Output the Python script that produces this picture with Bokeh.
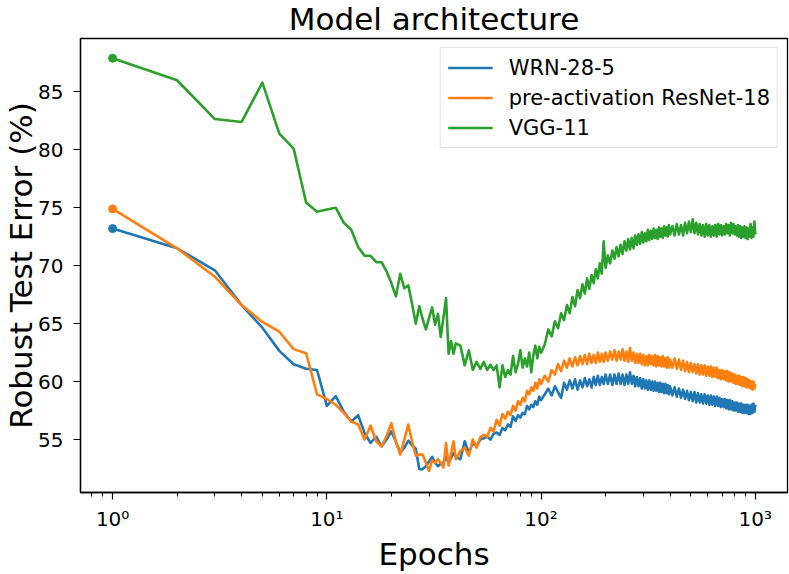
from bokeh.plotting import figure
from bokeh.models import (FixedTicker, CustomJSTickFormatter, Range1d, Legend,
                          LegendItem)
from bokeh.embed import file_html
from bokeh.resources import INLINE

# ---------------- data ----------------
epochs = (list(range(1, 41)) + list(range(42, 101, 2)) + list(range(104, 201, 4))
          + list(range(205, 401, 5)) + list(range(410, 1001, 10)))

wrn_a = [73.2, 71.5, 69.6, 66.6, 64.65, 62.65, 61.5, 61.1, 61.0, 57.9,
         58.75, 57.4, 56.55, 57.1, 55.55, 54.7, 55.25, 54.4, 55.0, 55.7,
         54.8, 53.9, 54.3, 54.9, 54.5, 54.2, 52.45, 52.45, 52.7, 53.1,
         53.5, 53.0, 52.7, 52.9, 53.0, 53.5, 53.0, 53.4, 53.85, 53.5]
wrn_b = [53.3, 54.85, 53.85, 54.7, 54.4, 55.0, 55.1, 55.25, 55.0, 55.5,
         55.6, 55.4, 56.0, 55.8, 56.3, 56.1, 57.0, 56.6, 57.1, 56.9,
         57.3, 57.2, 57.9, 57.6, 58.0, 57.8, 58.3, 58.0, 58.7, 58.4]
wrn_c = [58.9, 59.4, 58.8, 59.6, 59.1, 58.6, 59.9, 59.3, 60.1, 59.4,
         60.2, 59.3, 60.1, 59.5, 60.3, 59.6, 60.2, 59.5, 60.4, 59.7,
         60.5, 59.7, 60.4, 59.8, 60.6]
wrn_d = [59.8, 60.6, 59.7, 60.6, 59.8, 60.7, 59.8, 60.6, 59.7, 60.6,
         59.8, 60.8, 59.8, 60.5, 59.6, 60.4, 59.6, 60.3, 59.4, 60.2,
         59.4, 60.1, 59.3, 60.1, 59.3, 60.0, 59.2, 60.0, 59.2, 59.9,
         59.1, 59.9, 59.1, 59.8, 59.0, 59.8, 59.0, 59.7, 58.9, 59.6]
wrn_e = [58.8, 59.5, 58.7, 59.4, 58.6, 59.3, 58.5, 59.2, 58.4, 59.1,
         58.3, 59.1, 58.2, 59.0, 58.2, 58.9, 58.1, 58.9, 58.1, 58.8,
         58.0, 58.8, 58.0, 58.7, 57.9, 58.7, 57.9, 58.6, 57.8, 58.5,
         57.8, 58.5, 57.7, 58.4, 57.6, 58.4, 57.6, 58.3, 57.5, 58.2,
         57.5, 58.2, 57.4, 58.1, 57.4, 58.1, 57.3, 58.0, 57.3, 58.0,
         57.3, 58.0, 57.2, 57.9, 57.2, 58.0, 57.3, 58.1, 57.4, 58.0]

resnet_a = [74.9, 71.5, 69.05, 66.6, 65.15, 64.3, 62.8, 62.45, 58.9, 58.5,
            58.0, 57.3, 56.55, 56.3, 55.0, 56.2, 54.85, 54.4, 55.3, 56.4,
            54.8, 53.7, 55.0, 56.3, 54.8, 53.6, 53.7, 53.7, 53.0, 52.3,
            53.2, 53.0, 53.3, 53.0, 52.6, 54.7, 52.75, 53.8, 54.85, 53.3]
resnet_b = [54.0, 54.3, 53.6, 55.0, 54.3, 55.2, 55.4, 55.2, 56.0, 55.7,
            56.7, 56.2, 57.2, 56.8, 57.4, 57.1, 57.9, 57.5, 58.3, 58.0,
            58.6, 58.3, 59.2, 58.9, 59.5, 59.2, 59.9, 59.4, 60.2, 59.8]
resnet_c = [60.5, 60.0, 61.0, 60.6, 61.5, 60.9, 61.8, 61.2, 62.0, 61.3,
            62.1, 61.4, 62.2, 61.5, 62.3, 61.5, 62.4, 61.6, 62.3, 61.6,
            62.5, 61.7, 62.4, 61.7, 62.5]
resnet_d = [61.8, 62.6, 61.9, 62.7, 61.8, 62.6, 61.9, 62.8, 61.8, 62.6,
            61.7, 62.9, 61.8, 62.5, 61.6, 62.4, 61.6, 62.4, 61.5, 62.3,
            61.4, 62.2, 61.4, 62.3, 61.5, 62.2, 61.4, 62.3, 61.3, 62.2,
            61.4, 62.1, 61.3, 62.2, 61.3, 62.0, 61.2, 62.1, 61.2, 61.9]
resnet_e = [61.2, 62.0, 61.1, 61.9, 61.0, 61.8, 60.9, 61.7, 60.8, 61.6,
            60.8, 61.5, 60.7, 61.5, 60.6, 61.4, 60.6, 61.4, 60.5, 61.3,
            60.5, 61.3, 60.4, 61.2, 60.4, 61.2, 60.3, 61.0, 60.2, 61.0,
            60.2, 60.9, 60.1, 60.9, 60.0, 60.8, 60.0, 60.7, 59.9, 60.6,
            59.8, 60.5, 59.8, 60.5, 59.7, 60.4, 59.6, 60.4, 59.6, 60.3,
            59.5, 60.2, 59.5, 60.1, 59.4, 60.0, 59.3, 60.0, 59.4, 59.8]

vgg_a = [87.9, 86.0, 82.65, 82.4, 85.8, 81.4, 80.1, 75.45, 74.65, 74.85,
         75.0, 73.7, 73.1, 71.6, 70.85, 70.85, 70.3, 70.3, 69.5, 68.5,
         67.35, 69.3, 68.05, 68.3, 66.7, 65.0, 66.5, 65.4, 64.5, 65.5,
         66.4, 64.9, 65.85, 63.85, 65.5, 67.2, 62.4, 63.5, 62.4, 63.3]
vgg_b = [63.1, 61.4, 62.7, 61.0, 61.7, 61.1, 61.7, 61.0, 61.45, 61.0,
         61.4, 59.5, 61.4, 60.4, 61.0, 60.6, 62.2, 60.8, 61.5, 62.7,
         61.2, 62.0, 61.3, 62.5, 60.8, 62.3, 63.1, 62.0, 63.0, 62.5]
vgg_c = [63.2, 64.5, 63.9, 65.2, 64.6, 65.9, 65.3, 66.6, 65.9, 67.3,
         66.5, 67.9, 67.2, 68.4, 67.6, 68.9, 68.0, 69.2, 68.5, 69.7,
         68.9, 70.2, 69.3, 72.1, 69.8]
vgg_d = [70.9, 70.2, 71.3, 70.6, 71.6, 70.8, 71.8, 71.0, 72.1, 71.3,
         72.3, 71.4, 72.4, 71.5, 72.6, 71.8, 72.7, 71.9, 72.9, 72.0,
         72.8, 72.1, 73.1, 72.2, 73.0, 72.3, 73.2, 72.4, 73.1, 72.3,
         73.3, 72.5, 73.2, 72.4, 73.4, 72.6, 73.3, 72.5, 73.5, 72.7]
vgg_e = [73.4, 72.6, 73.6, 72.7, 73.5, 72.6, 73.7, 72.8, 73.8, 72.9,
         74.0, 72.8, 73.7, 72.7, 73.6, 72.6, 73.5, 72.5, 73.6, 72.6,
         73.5, 72.5, 73.4, 72.6, 73.5, 72.5, 73.6, 72.7, 73.5, 72.6,
         73.4, 72.7, 73.6, 72.8, 73.5, 72.6, 73.7, 72.8, 73.6, 72.7,
         73.4, 72.6, 73.5, 72.5, 73.4, 72.4, 73.3, 72.5, 73.4, 72.4,
         73.3, 72.3, 73.2, 72.5, 73.6, 72.4, 73.3, 72.5, 73.8, 72.7]

wrn = wrn_a + wrn_b + wrn_c + wrn_d + wrn_e
resnet = resnet_a + resnet_b + resnet_c + resnet_d + resnet_e
vgg = vgg_a + vgg_b + vgg_c + vgg_d + vgg_e

series_names = ["WRN-28-5", "pre-activation ResNet-18", "VGG-11"]
series_values = [wrn, resnet, vgg]
colors = ["#1f77b4", "#ff7f0e", "#2ca02c"]

x_major = [1, 10, 100, 1000]
x_minor = [0.8, 0.9, 2, 3, 4, 5, 6, 7, 8, 9, 20, 30, 40, 50, 60, 70, 80, 90,
           200, 300, 400, 500, 600, 700, 800, 900]
y_ticks = [55, 60, 65, 70, 75, 80, 85]

for s in series_values:
    assert len(s) == len(epochs), (len(s), len(epochs))

# ---------------- figure ----------------
FONT = "DejaVu Sans"
p = figure(width=789, height=574, x_axis_type="log",
           x_range=Range1d(0.708, 1413), y_range=Range1d(50.43, 89.6),
           output_backend="svg", toolbar_location=None,
           min_border_left=80, min_border_right=2, min_border_top=37,
           min_border_bottom=77)
p.background_fill_color = "white"
p.border_fill_color = "white"
p.grid.visible = False
p.outline_line_color = "black"
p.outline_line_width = 1.3

p.title.text = "Model architecture"
p.title.align = "center"
p.title.text_font = FONT
p.title.text_font_size = "31px"
p.title.text_font_style = "normal"
p.title.text_color = "black"
p.title.standoff = 0
p.title.vertical_align = "top"

items = []
for name, vals, col in zip(series_names, series_values, colors):
    r = p.line(epochs, vals, line_width=2.6, color=col, line_join="round")
    p.scatter([epochs[0]], [vals[0]], size=8, color=col)
    items.append(LegendItem(label=name, renderers=[r]))

# axes
p.xaxis.ticker = FixedTicker(ticks=x_major, minor_ticks=x_minor)
p.xaxis.formatter = CustomJSTickFormatter(code="""
const sup = {"-1":"⁻¹","0":"⁰","1":"¹","2":"²","3":"³","4":"⁴"};
const e = Math.round(Math.log10(tick));
return "10" + sup[String(e)];
""")
p.yaxis.ticker = FixedTicker(ticks=y_ticks)
for ax in (p.xaxis[0], p.yaxis[0]):
    ax.axis_line_color = "black"
    ax.axis_line_width = 1.3
    ax.major_tick_line_color = "black"
    ax.major_tick_line_width = 1.2
    ax.major_tick_out = 7
    ax.major_tick_in = 0
    ax.major_label_text_font = FONT
    ax.major_label_text_font_size = "20px"
    ax.major_label_text_color = "black"
    ax.axis_label_text_font = FONT
    ax.axis_label_text_font_size = "31px"
    ax.axis_label_text_font_style = "normal"
    ax.axis_label_text_color = "black"
p.xaxis.minor_tick_line_color = "black"
p.xaxis.minor_tick_line_width = 1.0
p.xaxis.minor_tick_out = 4
p.xaxis.minor_tick_in = 0
p.yaxis.minor_tick_line_color = None
p.xaxis.axis_label = "Epochs"
p.yaxis.axis_label = "Robust Test Error (%)"
p.xaxis.major_label_standoff = 7
p.xaxis.axis_label_standoff = 2
p.yaxis.major_label_standoff = 10
p.yaxis.axis_label_standoff = -4

legend = Legend(items=items, location="top_right")
legend.label_text_font = FONT
legend.label_text_font_size = "21px"
legend.label_text_color = "black"
legend.glyph_width = 45
legend.glyph_height = 25
legend.label_height = 25
legend.spacing = 5
legend.padding = 7
legend.label_standoff = 16
legend.margin = 9
legend.border_line_color = "#cccccc"
legend.border_line_width = 1.2
legend.background_fill_color = "white"
legend.background_fill_alpha = 0.8
p.add_layout(legend)

open("out.html", "w").write(file_html(p, INLINE))
